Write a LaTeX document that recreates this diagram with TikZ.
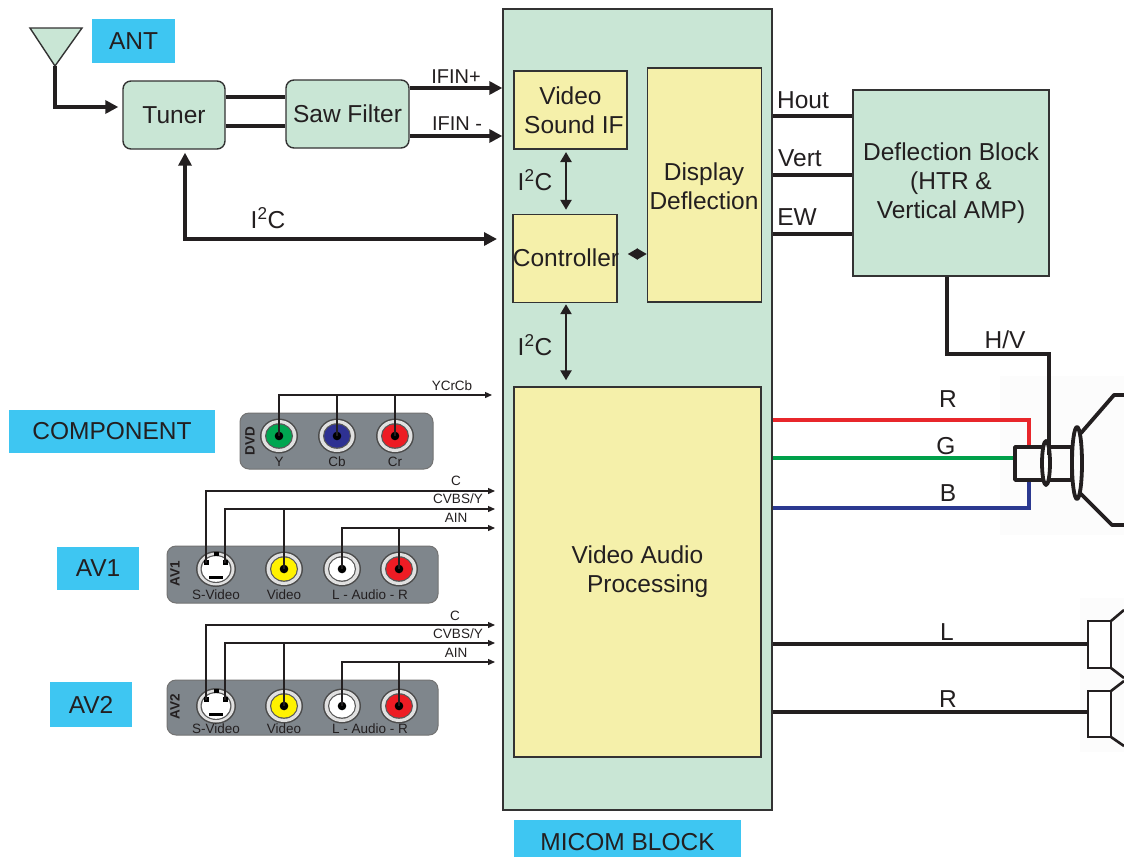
\documentclass[tikz,border=0pt]{standalone}
\usepackage{fontspec}
\setmainfont{Liberation Sans}
\usetikzlibrary{arrows.meta}
\definecolor{gfill}{HTML}{C9E6D5}
\definecolor{yfill}{HTML}{F5F0AA}
\definecolor{lblue}{HTML}{3EC6F2}
\definecolor{panelgray}{HTML}{7F868C}
\definecolor{edgec}{HTML}{333333}
\definecolor{txt}{HTML}{231F20}
\definecolor{rr}{HTML}{E8262B}
\definecolor{gg}{HTML}{00A04A}
\definecolor{bb}{HTML}{2B3990}
\definecolor{jy}{HTML}{00A651}
\definecolor{jb}{HTML}{2E3192}
\definecolor{jr}{HTML}{ED1C24}
\definecolor{jyel}{HTML}{FFF200}

\tikzset{
 bigtext/.style={font=\fontsize{24.5}{29}\selectfont, text=txt},
 gbox/.style={draw=edgec, line width=1.4pt, fill=gfill, inner sep=0pt, bigtext},
 rbox/.style={gbox, rounded corners=8pt},
 ybox/.style={draw=edgec, line width=1.4pt, fill=yfill, inner sep=0pt, bigtext},
 bluetag/.style={fill=lblue, inner sep=0pt, bigtext},
 lab/.style={bigtext, inner sep=0pt},
 smalltext/.style={font=\fontsize{13.5}{15}\selectfont, inner sep=0pt, text=txt},
 rottext/.style={font=\fontsize{13.5}{15}\bfseries\selectfont, inner sep=0pt, text=txt, rotate=90},
 wire/.style={line width=4pt, draw=txt},
 arr/.style={wire, -{Triangle[length=13pt,width=13pt]}},
 darr/.style={line width=2.4pt, draw=txt, {Triangle[length=10pt,width=11pt]}-{Triangle[length=10pt,width=11pt]}},
 busline/.style={line width=1.3pt, draw=txt},
 busarr/.style={busline, -{Triangle[length=7pt,width=6pt]}},
 panel/.style={fill=panelgray, draw=black!55, line width=1pt, rounded corners=9pt},
 colwire/.style={line width=3.2pt},
 crtline/.style={line width=3.8pt, draw=txt, line cap=round, line join=round},
 spkline/.style={line width=2.6pt, draw=txt},
}

\newcommand\rcajack[3]{%
 \fill[black!70] (#1,#2) ellipse[x radius=19pt, y radius=17.5pt];
 \fill[black!12] (#1,#2) ellipse[x radius=17.5pt, y radius=16pt];
 \fill[black!65] (#1,#2) ellipse[x radius=14pt, y radius=12.8pt];
 \fill[#3] (#1,#2) ellipse[x radius=12.8pt, y radius=11.6pt];
 \fill[black] (#1,#2) circle[radius=4.3pt];
}
\newcommand\svideojack[2]{%
 \fill[black!70] (#1,#2) ellipse[x radius=20pt, y radius=18pt];
 \fill[black!12] (#1,#2) ellipse[x radius=18.5pt, y radius=16.5pt];
 \fill[black!65] (#1,#2) ellipse[x radius=15.5pt, y radius=14pt];
 \fill[white] (#1,#2) ellipse[x radius=14.3pt, y radius=12.8pt];
 \fill[black] ({#1-12},{#2-9}) rectangle ({#1-7},{#2-4});
 \fill[black] ({#1+7},{#2-9}) rectangle ({#1+12},{#2-4});
 \fill[black] ({#1-7},{#2+7}) rectangle ({#1+7},{#2+10});
 \fill[black] ({#1-2},{#2-17}) rectangle ({#1+3},{#2-13});
}

\begin{document}
\begin{tikzpicture}[x=1pt,y=-1pt]
\useasboundingbox (0,0) rectangle (1124,857);
\fill[white] (0,0) rectangle (1124,857);
% faint backdrops
\fill[black!1] (1000,376) rectangle (1124,535);
\fill[black!1] (1080,598) rectangle (1124,752);

% ---------- main blocks ----------
\node[gbox, minimum width=269pt, minimum height=801pt] (micom) at (637.5,409.5) {};
\node[ybox, minimum width=113pt, minimum height=78pt, align=center] (vsif) at (570.5,110) {Video\\ \ Sound IF};
\node[ybox, minimum width=114pt, minimum height=234pt] (disp) at (704.5,185) {};
\node[lab, align=center] (disptext) at (704,186) {Display\\Deflection};
\node[ybox, minimum width=104pt, minimum height=88pt] (ctrl) at (565,258.5) {};
\node[lab] (ctrltext) at (566,258) {Controller};
\node[ybox, minimum width=247pt, minimum height=370pt, align=center] (vap) at (637.5,572) {Video Audio\\ \ \ \ Processing};

\node[rbox, minimum width=102pt, minimum height=68pt] (tuner) at (174,115) {Tuner};
\node[rbox, minimum width=123pt, minimum height=68pt] (saw) at (347.5,114) {Saw Filter};
\node[gbox, minimum width=196pt, minimum height=186pt, align=center] (defl) at (951,183)
  {Deflection Block\\(HTR \&\\Vertical AMP)};

% ---------- labels (blue) ----------
\node[bluetag, minimum width=83pt, minimum height=44pt] (antlab) at (133.5,41) {ANT};
\node[bluetag, minimum width=206pt, minimum height=43pt] (complab) at (112,431.5) {COMPONENT\hspace{22pt}};
\node[bluetag, minimum width=82pt, minimum height=43pt] (av1lab) at (98,568.5) {AV1};
\node[bluetag, minimum width=82pt, minimum height=45pt] (av2lab) at (91,704.5) {AV2};
\node[bluetag, minimum width=227pt, minimum height=37pt, text depth=0pt] (micomlab) at (627.5,838.5) {\raisebox{-7pt}{MICOM BLOCK}\hspace{20pt}};

% ---------- antenna ----------
\draw[draw=edgec, line width=1.4pt, fill=gfill] (30,28) -- (82,28) -- (55,66) -- cycle;
\coordinate (anttip) at (55,66);
\draw[arr, shorten >=4pt, line join=miter] (anttip) |- (tuner.west |- 0,107);

% tuner - saw
\draw[wire] (tuner.east |- 0,97) -- (saw.west |- 0,97);
\draw[wire] (tuner.east |- 0,126) -- (saw.west |- 0,126);
% IFIN
\draw[arr] (saw.east |- 0,88) -- (micom.west |- 0,88);
\draw[arr] (saw.east |- 0,136) -- (micom.west |- 0,136);
\node[lab, font=\fontsize{20}{23}\selectfont] (ifinp) at (456,77) {IFIN+};
\node[lab, font=\fontsize{20}{23}\selectfont] (ifinm) at (457,124) {IFIN -};

% tuner I2C
\coordinate (i2cR) at (497,239);
\draw[wire, {Triangle[length=13pt,width=13pt]}-{Triangle[length=13pt,width=13pt]}, line join=miter, shorten <=3pt]
  ([xshift=11pt]tuner.south) |- (i2cR);
\node[lab] (i2ca) at (268,218) {I\textsuperscript{2}C};

% internal arrows
\coordinate (vsifbot) at (566,150);
\draw[darr, shorten <=2pt, shorten >=4pt] (vsifbot) -- (ctrl.north -| vsifbot);
\draw[darr, shorten <=1pt, shorten >=6pt] (ctrl.south -| vsifbot) -- (vap.north -| vsifbot);
\draw[line width=2pt, draw=txt, {Triangle[length=10pt,width=11pt]}-{Triangle[length=10pt,width=11pt]}, shorten <=10pt]
  (ctrl.east |- 0,254) -- (disp.west |- 0,254);
\node[lab] (i2cb) at (535,180) {I\textsuperscript{2}C};
\node[lab] (i2cc) at (535,345) {I\textsuperscript{2}C};

% ---------- deflection ----------
\draw[wire] (micom.east |- 0,116) -- (defl.west |- 0,116);
\draw[wire] (micom.east |- 0,175) -- (defl.west |- 0,175);
\draw[wire] (micom.east |- 0,234) -- (defl.west |- 0,234);
\node[lab] (hout) at (803,100) {Hout};
\node[lab] (vert) at (800,158) {Vert};
\node[lab] (ew) at (797,217) {EW};

\coordinate (hvin) at (1049,455);
\draw[wire, line width=3.6pt, line join=miter] ([xshift=-4pt]defl.south) |- (1049,354) -- (hvin);
\node[lab] (hv) at (1005,340) {H/V};

% ---------- RGB ----------
\coordinate (rin) at (1029,447);
\coordinate (gin) at (1017,458);
\coordinate (bin) at (1029,479);
\draw[colwire, rr] (micom.east |- 0,420) -| (rin);
\draw[colwire, gg] (micom.east |- 0,458) -- (gin);
\draw[colwire, bb] (micom.east |- 0,508) -| (bin);
\node[lab] (rl) at (948,399) {R};
\node[lab] (gl) at (946,446) {G};
\node[lab] (bl) at (948,493) {B};

% CRT
\draw[crtline] (1015,447) rectangle (1072,480);
\draw[crtline] (1043,447) -- (1043,480);
\draw[crtline, fill=white] (1046,463) ellipse[x radius=4pt, y radius=22pt];
\draw[crtline] (1072,447) -- (1072,480);
\draw[crtline] (1077,463) ellipse[x radius=5pt, y radius=36pt];
\draw[crtline] (1081,433) -- (1114,395) -- (1124,395);
\draw[crtline] (1081,494) -- (1112,525) -- (1124,525);
\draw[wire, line width=3.6pt] (1049,447) -- (hvin);

% ---------- audio ----------
\coordinate (spkL) at (1088,644);
\coordinate (spkR) at (1088,712);
\draw[wire] (micom.east |- 0,644) -- (spkL);
\draw[wire] (micom.east |- 0,712) -- (spkR);
\node[lab] (ll) at (947,632) {L};
\node[lab] (rl2) at (948,699) {R};
\draw[spkline, fill=white] (1088,621) rectangle (1111,668);
\draw[spkline] (1111,621) -- (1124,610);
\draw[spkline] (1111,668) -- (1124,678);
\draw[spkline, fill=white] (1088,691) rectangle (1111,737);
\draw[spkline] (1111,691) -- (1124,681);
\draw[spkline] (1111,737) -- (1124,746);

% ---------- component panel ----------
\draw[panel] (240,413) rectangle (433,469);
\node[rottext] (dvd) at (250,441) {DVD};
\rcajack{279}{436}{jy}
\rcajack{337}{436}{jb}
\rcajack{395}{436}{jr}
\node[smalltext] (ly) at (279,462) {Y};
\node[smalltext] (lcb) at (337,462) {Cb};
\node[smalltext] (lcr) at (395,462) {Cr};
\coordinate (ycend) at (492,395);
\draw[busarr] (279,436) |- (ycend);
\draw[busline] (337,436) -- (337,395);
\draw[busline] (395,436) -- (395,395);
\node[smalltext] (ycrcb) at (452,386) {YCrCb};

% ---------- AV1 ----------
\draw[panel] (167,546) rectangle (438,603);
\node[rottext] (av1t) at (175,574) {AV1};
\svideojack{216}{569}
\rcajack{284}{569}{jyel}
\rcajack{342}{569}{white}
\rcajack{399}{569}{jr}
\node[smalltext] (sv1) at (216,595) {S-Video};
\node[smalltext] (vd1) at (284,595) {Video};
\node[smalltext] (au1) at (370,595) {L - Audio - R};
\coordinate (c1end) at (495,491);
\coordinate (y1end) at (495,509);
\coordinate (a1end) at (495,528);
\draw[busarr] (206,563) |- (c1end);
\draw[busarr] (225,563) |- (y1end);
\draw[busline] (284,569) -- (284,509);
\draw[busarr] (342,569) |- (a1end);
\draw[busline] (399,569) -- (399,528);
\node[smalltext] (c1l) at (456,481) {C};
\node[smalltext] (y1l) at (458,499) {CVBS/Y};
\node[smalltext] (a1l) at (456,518) {AIN};

% ---------- AV2 ----------
\draw[panel] (167,680) rectangle (438,735);
\node[rottext] (av2t) at (175,707) {AV2};
\svideojack{216}{706}
\rcajack{284}{706}{jyel}
\rcajack{342}{706}{white}
\rcajack{399}{706}{jr}
\node[smalltext] (sv2) at (216,729) {S-Video};
\node[smalltext] (vd2) at (284,729) {Video};
\node[smalltext] (au2) at (370,729) {L - Audio - R};
\coordinate (c2end) at (495,625);
\coordinate (y2end) at (495,643);
\coordinate (a2end) at (495,662);
\draw[busarr] (206,700) |- (c2end);
\draw[busarr] (225,700) |- (y2end);
\draw[busline] (284,706) -- (284,643);
\draw[busarr] (342,706) |- (a2end);
\draw[busline] (399,706) -- (399,662);
\node[smalltext] (c2l) at (455,616) {C};
\node[smalltext] (y2l) at (458,634) {CVBS/Y};
\node[smalltext] (a2l) at (456,653) {AIN};
\end{tikzpicture}
\end{document}
